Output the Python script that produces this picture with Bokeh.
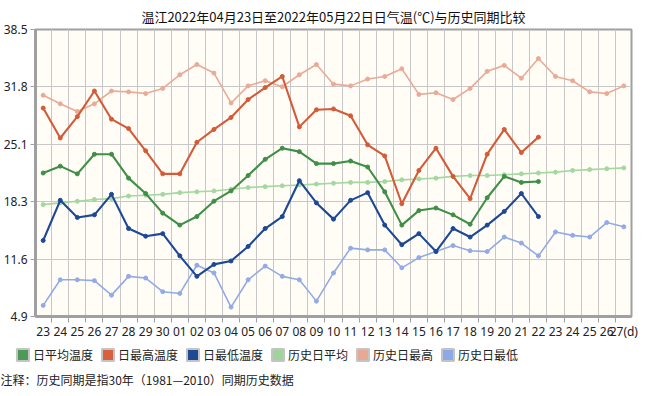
from bokeh.plotting import figure
from bokeh.layouts import column
from bokeh.models import FixedTicker, Legend, LegendItem, Range1d, Label
from bokeh.embed import file_html
from bokeh.resources import INLINE

# ---- data ----
dates = ["23", "24", "25", "26", "27", "28", "29", "30", "01", "02", "03", "04",
         "05", "06", "07", "08", "09", "10", "11", "12", "13", "14", "15", "16",
         "17", "18", "19", "20", "21", "22", "23", "24", "25", "26", "27(d)"]

avg_temp = [21.7, 22.5, 21.6, 23.9, 23.9, 21.1, 19.3, 17.0, 15.6, 16.6, 18.4, 19.6,
            21.4, 23.3, 24.6, 24.2, 22.8, 22.8, 23.1, 22.4, 19.5, 15.6, 17.3, 17.6,
            16.8, 15.7, 18.8, 21.3, 20.6, 20.7]
max_temp = [29.3, 25.8, 28.3, 31.3, 28.0, 26.9, 24.3, 21.6, 21.6, 25.3, 26.8, 28.2,
            30.3, 31.7, 33.0, 27.1, 29.1, 29.2, 28.4, 25.0, 23.7, 18.1, 22.0, 24.6,
            21.3, 18.7, 23.9, 26.8, 24.1, 25.9]
min_temp = [13.8, 18.5, 16.5, 16.8, 19.2, 15.2, 14.3, 14.6, 12.0, 9.6, 11.0, 11.4,
            13.1, 15.2, 16.6, 20.8, 18.2, 16.3, 18.5, 19.4, 15.6, 13.3, 14.6, 12.5,
            15.2, 14.2, 15.6, 17.2, 19.3, 16.6]
hist_avg = [18.0, 18.2, 18.4, 18.6, 18.7, 19.0, 19.1, 19.2, 19.4, 19.5, 19.6, 19.8,
            20.0, 20.1, 20.2, 20.3, 20.4, 20.5, 20.6, 20.6, 20.7, 20.9, 21.0, 21.1,
            21.3, 21.4, 21.4, 21.5, 21.6, 21.7, 21.8, 22.0, 22.1, 22.2, 22.3]
hist_max = [30.8, 29.8, 28.9, 29.8, 31.3, 31.2, 31.0, 31.6, 33.2, 34.4, 33.4, 29.9,
            31.9, 32.5, 31.8, 33.2, 34.4, 32.1, 31.9, 32.7, 33.0, 33.9, 30.9, 31.1,
            30.3, 31.6, 33.6, 34.3, 32.8, 35.1, 33.0, 32.5, 31.2, 31.0, 31.9]
hist_min = [6.2, 9.2, 9.2, 9.1, 7.4, 9.6, 9.4, 7.8, 7.6, 10.9, 10.0, 6.0,
            9.2, 10.8, 9.6, 9.2, 6.7, 10.0, 12.9, 12.7, 12.7, 10.6, 11.8, 12.5,
            13.2, 12.6, 12.5, 14.2, 13.5, 12.0, 14.8, 14.4, 14.2, 15.9, 15.4]

y_ticks = [4.9, 11.62, 18.34, 25.06, 31.78, 38.5]
y_tick_labels = ["4.9", "11.6", "18.3", "25.1", "31.8", "38.5"]

series_names = ["日平均温度", "日最高温度", "日最低温度", "历史日平均", "历史日最高", "历史日最低"]
title_text = "温江2022年04月23日至2022年05月22日日气温(℃)与历史同期比较"
note_text = "注释：历史同期是指30年（1981—2010）同期历史数据"

# ---- styles ----
colors = ["#3f8f47", "#d35b38", "#1d4896", "#a3d8a0", "#e9aa97", "#92abe6"]
swatch = ["#4b9a55", "#d7603d", "#1f4a93", "#9fd49b", "#e8a893", "#8eaae6"]

x_all = list(range(len(dates)))
x_act = list(range(len(avg_temp)))

p = figure(frame_width=596, frame_height=287, output_backend="svg", toolbar_location=None,
           x_range=Range1d(-0.45, 34.45), y_range=Range1d(4.9, 38.5),
           min_border_left=28, min_border_right=8, min_border_top=22,
           min_border_bottom=22)

p.title.text = title_text
p.title.align = "center"
p.title.text_font = "Noto Sans CJK SC"
p.title.text_font_size = "13px"
p.title.text_font_style = "normal"
p.title.text_color = "#111111"
p.title.standoff = 8

p.background_fill_color = "#fffdf6"
p.border_fill_color = "white"
p.outline_line_color = "#a0a0a0"
p.outline_line_width = 2

# grids
p.xgrid.ticker = FixedTicker(ticks=[i + 0.5 for i in range(len(dates) - 1)])
p.xgrid.grid_line_color = "#c8c8c8"
p.ygrid.grid_line_color = "#c8c8c8"

# axes
p.xaxis.ticker = FixedTicker(ticks=x_all, minor_ticks=[i - 0.5 for i in range(len(dates) + 1)])
p.xaxis.major_label_overrides = {i: d for i, d in enumerate(dates)}
p.yaxis.ticker = FixedTicker(ticks=y_ticks)
p.yaxis.major_label_overrides = {v: s for v, s in zip(y_ticks, y_tick_labels)}
for ax in (p.xaxis[0], p.yaxis[0]):
    ax.axis_line_color = "#a0a0a0"
    ax.axis_line_width = 3
    ax.major_label_text_font = "Noto Sans"
    ax.major_label_text_font_size = "12px"
    ax.major_label_text_color = "#222222"
    ax.major_tick_line_color = "#a0a0a0"
    ax.minor_tick_line_color = "#a0a0a0"
p.xaxis.major_tick_out = 0
p.xaxis.major_tick_in = 0
p.xaxis.minor_tick_out = 6
p.xaxis.minor_tick_in = 0
p.xaxis.major_label_standoff = 0
p.yaxis.major_tick_out = 5
p.yaxis.major_tick_in = 0
p.yaxis.minor_tick_out = 0
p.yaxis.minor_tick_in = 0
p.yaxis.major_label_standoff = 3

# lines: history first (underneath)
hist = [(hist_avg, colors[3]), (hist_max, colors[4]), (hist_min, colors[5])]
for vals, c in hist:
    p.line(x_all, vals, line_color=c, line_width=1.6)
    p.scatter(x_all, vals, size=4, fill_color=c, line_color=c)
act = [(avg_temp, colors[0]), (max_temp, colors[1]), (min_temp, colors[2])]
for vals, c in act:
    p.line(x_act, vals, line_color=c, line_width=2.1)
    p.scatter(x_act, vals, size=4, fill_color=c, line_color=c)

# ---- legend + note strip ----
p2 = figure(width=632, height=46, output_backend="svg", toolbar_location=None,
            x_range=Range1d(0, 1), y_range=Range1d(0, 1),
            x_axis_location=None, y_axis_location=None,
            min_border=0, outline_line_color=None)
p2.frame_align = False
p2.grid.visible = False
nan = float("nan")
items = []
for name, c in zip(series_names, swatch):
    # legend-only swatch renderer (NaN data: nothing drawn in the plot area)
    r = p2.quad(left=[nan], right=[nan], top=[nan], bottom=[nan], fill_color=c,
                line_color="#c4c4c4", line_width=2)
    items.append(LegendItem(label=name, renderers=[r]))
legend = Legend(items=items, orientation="horizontal", location=(15, 25),
                glyph_width=15, glyph_height=15, label_height=15, label_standoff=3,
                spacing=7, padding=0, margin=0, border_line_color=None,
                background_fill_alpha=0, label_text_font="Noto Sans CJK SC",
                label_text_font_size="12px", label_text_color="#222222")
p2.add_layout(legend, "center")

note = Label(x=0, y=9, x_units="screen", y_units="screen", text=note_text,
             text_font="Noto Sans CJK SC", text_font_size="12px",
             text_baseline="middle", text_color="#222222")
p2.add_layout(note)

layout = column(p, p2, spacing=0)
open("out.html", "w").write(file_html(layout, INLINE))
